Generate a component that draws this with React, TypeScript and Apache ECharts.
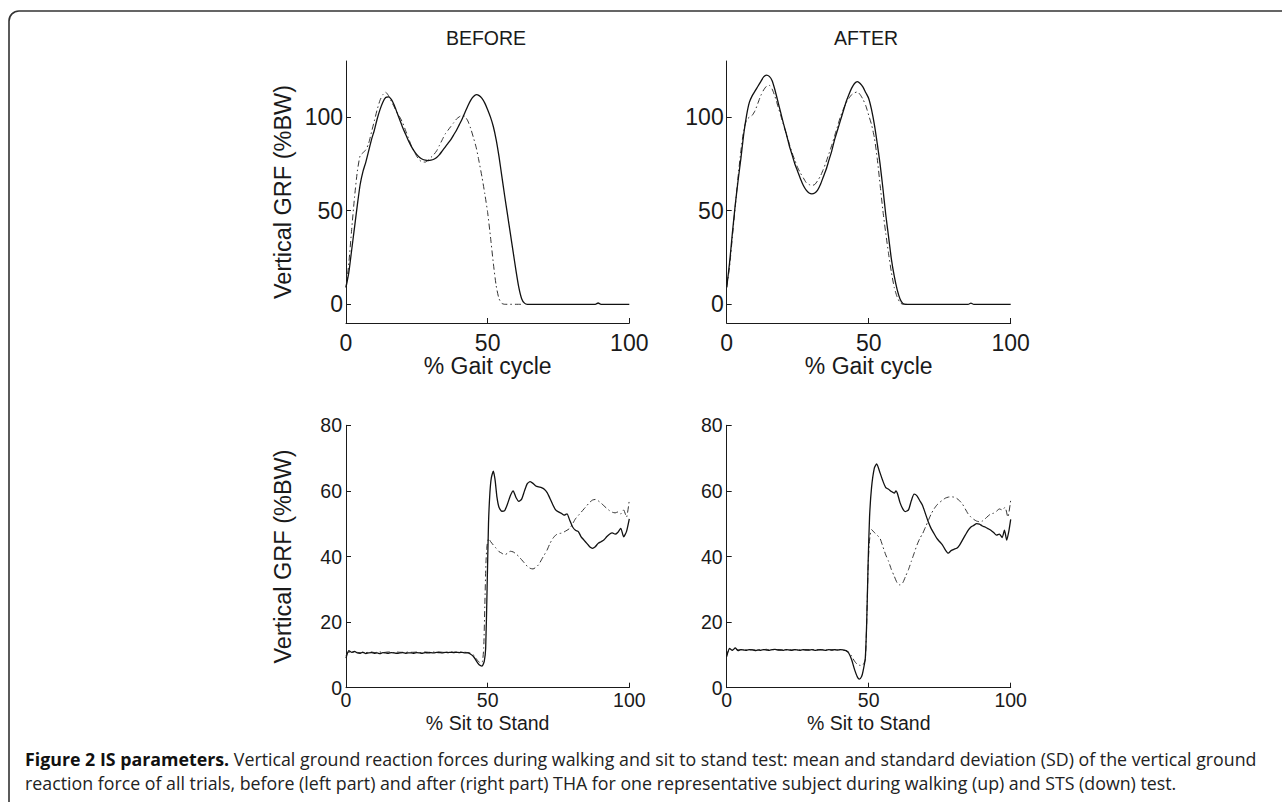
import React, { useEffect, useRef } from "react";
import * as echarts from "echarts";

// ---------- DATA ----------
const GAIT_X_TICKS = [0, 50, 100];
const GAIT_Y_TICKS = [0, 50, 100];
const STS_X_TICKS = [0, 50, 100];
const STS_Y_TICKS = [0, 20, 40, 60, 80];

// Walking, BEFORE — mean (solid)
const gaitBeforeMean: [number, number][] = [
  [0, 9], [1, 17], [2, 29], [3, 41], [4, 53], [5, 64], [6, 71], [7, 76], [8, 82], [9, 88],
  [10, 93], [11, 99], [12, 104], [13, 108], [14, 110.5], [15, 110.8], [16, 109.5], [17, 106.5],
  [18, 102.5], [19, 98.5], [20, 94.5], [21, 91], [22, 87.5], [23, 84.5], [24, 82], [25, 80],
  [26, 78.5], [27, 77.5], [28, 77], [29, 76.8], [30, 77], [31, 77.5], [32, 78.5], [33, 80],
  [34, 82], [35, 84], [36, 86], [37, 88], [38, 90.5], [39, 93], [40, 96], [41, 99], [42, 102.5],
  [43, 106], [44, 109], [45, 111], [46, 112], [47, 111.5], [48, 110], [49, 107.5], [50, 104],
  [51, 100], [52, 95], [53, 88], [54, 79], [55, 68.5], [56, 58], [57, 48], [58, 38], [59, 28],
  [60, 18], [61, 9], [62, 3], [63, 0.6], [64, 0], [70, 0], [80, 0], [88, 0], [89, 0.7], [90, 0], [100, 0],
];
// Walking, BEFORE — SD band (dash-dot)
const gaitBeforeSd: [number, number][] = [
  [0, 9], [1, 22], [2, 40], [3, 57], [4, 71], [5, 79.5], [6, 81], [7, 82.5], [8, 86], [9, 92],
  [10, 98], [11, 104], [12, 109], [13, 112], [14, 113.3], [15, 111.5], [16, 108.5], [17, 105.5],
  [18, 102.5], [19, 100], [20, 97], [21, 93], [22, 89], [23, 85], [24, 82], [25, 79], [26, 77],
  [27, 76], [28, 76], [29, 77], [30, 78.5], [31, 80], [32, 82], [33, 85], [34, 88], [35, 91],
  [36, 93], [37, 95], [38, 97], [39, 99], [40, 100.2], [41, 101], [42, 100.3], [43, 98],
  [44, 94], [45, 89], [46, 83.5], [47, 76], [48, 68], [49, 59], [50, 49], [51, 36], [52, 22],
  [53, 10], [54, 3], [55, 0.5], [56, 0], [62, 0],
];
// Walking, AFTER — mean (solid)
const gaitAfterMean: [number, number][] = [
  [0, 9], [1, 22], [2, 38], [3, 53], [4, 66], [5, 78], [6, 91], [7, 101], [8, 108], [9, 111.5],
  [10, 114], [11, 116.5], [12, 119], [13, 121.5], [14, 122.5], [15, 121.8], [16, 119.5],
  [17, 114.5], [18, 108.5], [19, 102.5], [20, 96.5], [21, 91], [22, 85], [23, 80], [24, 75],
  [25, 71], [26, 67], [27, 63.5], [28, 61], [29, 59.5], [30, 59], [31, 59.5], [32, 61], [33, 64],
  [34, 68], [35, 72], [36, 77], [37, 82], [38, 88], [39, 93], [40, 98], [41, 103], [42, 108],
  [43, 112], [44, 115.5], [45, 118], [46, 119], [47, 118], [48, 116], [49, 113], [50, 110],
  [51, 104], [52, 96], [53, 86], [54, 75], [55, 62], [56, 48], [57, 36], [58, 24], [59, 15],
  [60, 8], [61, 3], [62, 0.5], [63, 0], [70, 0], [85, 0], [86, 0.6], [87, 0], [100, 0],
];
// Walking, AFTER — SD band (dash-dot)
const gaitAfterSd: [number, number][] = [
  [0, 9], [1, 20], [2, 36], [3, 52], [4, 68], [5, 82], [6, 93], [7, 98.5], [8, 100], [9, 101],
  [10, 103.5], [11, 107.5], [12, 111.5], [13, 114.5], [14, 116.5], [15, 117], [16, 115],
  [17, 111], [18, 106], [19, 101], [20, 96], [21, 91], [22, 86], [23, 81], [24, 77], [25, 73],
  [26, 70], [27, 67.5], [28, 65], [29, 64], [30, 63.5], [31, 64], [32, 66], [33, 68.5], [34, 72],
  [35, 76], [36, 80.5], [37, 85], [38, 90], [39, 95], [40, 100], [41, 104], [42, 107.5],
  [43, 110], [44, 112], [45, 113], [46, 113.5], [47, 112], [48, 109.5], [49, 106], [50, 101],
  [51, 96], [52, 89], [53, 78], [54, 64], [55, 50], [56, 38], [57, 27], [58, 17], [59, 9],
  [60, 4], [61, 1], [62, 0], [64, 0],
];
// Sit to stand, BEFORE — mean (solid)
const stsBeforeMean: [number, number][] = [
  [0, 9], [1, 11.3], [2, 10.8], [3, 11.1], [4, 10.6], [5, 10.5], [6, 10.8], [7, 10.4], [8, 10.6],
  [9, 10.7], [10, 10.5], [11, 10.6], [12, 10.4], [13, 10.7], [14, 10.6], [15, 10.5], [16, 10.7],
  [17, 10.6], [18, 10.5], [19, 10.6], [20, 10.7], [21, 10.5], [22, 10.6], [23, 10.6], [24, 10.5],
  [25, 10.7], [26, 10.6], [27, 10.5], [28, 10.7], [29, 10.6], [30, 10.7], [31, 10.6], [32, 10.8],
  [33, 10.7], [34, 10.6], [35, 10.8], [36, 10.7], [37, 10.8], [38, 10.7], [39, 10.8], [40, 10.7],
  [41, 10.8], [42, 10.6], [43, 10.6], [44, 10.2], [45, 9.5], [46, 8.2], [47, 7], [48, 6.6],
  [48.8, 8], [49.3, 12], [49.8, 30], [50.3, 50], [50.8, 59.5], [51.3, 64], [52, 66], [52.6, 63.5],
  [53.3, 58], [54, 55], [55, 53.8], [56, 54], [57, 56], [58, 58.5], [59, 60], [60, 58],
  [61, 56.8], [62, 57.5], [63, 60], [64, 62.2], [65, 62.8], [66, 62.3], [67, 61.5], [68, 61.2],
  [69, 61], [70, 60.5], [71, 59.5], [72, 57.7], [73, 55.8], [74, 54.2], [75, 53.6], [76, 53.2],
  [77, 52.6], [78, 53], [79, 51], [80, 49], [81, 48], [82, 47.6], [83, 46], [84, 45], [85, 44],
  [86, 43], [87, 42.5], [88, 43], [89, 44], [90, 44.5], [91, 45], [92, 46], [93, 46.8],
  [94, 47.2], [95, 46.8], [96, 47.4], [97, 48.6], [98, 46], [99, 47.6], [100, 51.5],
];
// Sit to stand, BEFORE — SD band (dash-dot)
const stsBeforeSd: [number, number][] = [
  [0, 9.8], [1, 10.9], [2, 10.7], [3, 10.9], [4, 10.8], [5, 10.6], [6, 10.9], [7, 10.7],
  [8, 10.8], [9, 10.9], [10, 10.7], [11, 10.8], [12, 10.9], [13, 10.7], [14, 10.8], [15, 10.9],
  [16, 10.8], [17, 10.7], [18, 10.9], [19, 10.8], [20, 10.8], [21, 10.7], [22, 10.9], [23, 10.8],
  [24, 10.8], [25, 10.9], [26, 10.7], [27, 10.8], [28, 10.9], [29, 10.8], [30, 10.8], [31, 10.9],
  [32, 10.8], [33, 10.9], [34, 10.8], [35, 10.9], [36, 10.8], [37, 10.9], [38, 10.8], [39, 10.9],
  [40, 10.8], [41, 10.9], [42, 10.8], [43, 10.7], [44, 10.5], [45, 10], [46, 8.8], [47, 7.8],
  [48, 7.6], [48.6, 12], [49, 25], [49.4, 38], [49.8, 43.5], [50.4, 45.5], [51, 44.6],
  [52, 43.5], [53, 42.5], [54, 41.5], [55, 41], [56, 40.5], [57, 41], [58, 41.6], [59, 41.4],
  [60, 40.8], [61, 40], [62, 39], [63, 38], [64, 37], [65, 36.4], [66, 36.2], [67, 36.7],
  [68, 37.5], [69, 39], [70, 40.5], [71, 42], [72, 44], [73, 45.5], [74, 46.5], [75, 47],
  [76, 47.1], [77, 47.5], [78, 48], [79, 48.6], [80, 50], [81, 51.5], [82, 52.5], [83, 53.5],
  [84, 54.5], [85, 55.5], [86, 56.5], [87, 57.2], [88, 57.4], [89, 57], [90, 56.3], [91, 55.5],
  [92, 54.7], [93, 54], [94, 53.5], [95, 53.3], [96, 53.6], [97, 53], [98, 54.2], [99, 52],
  [100, 57.2],
];
// Sit to stand, AFTER — mean (solid)
const stsAfterMean: [number, number][] = [
  [0, 9.5], [1, 12], [2, 11.4], [3, 12.1], [4, 11.3], [5, 11.6], [6, 11.5], [7, 11.4], [8, 11.6],
  [9, 11.5], [10, 11.3], [11, 11.5], [12, 11.4], [13, 11.6], [14, 11.5], [15, 11.4], [16, 11.6],
  [17, 11.7], [18, 11.5], [19, 11.5], [20, 11.4], [21, 11.6], [22, 11.5], [23, 11.4], [24, 11.6],
  [25, 11.5], [26, 11.4], [27, 11.6], [28, 11.5], [29, 11.5], [30, 11.6], [31, 11.4], [32, 11.5],
  [33, 11.6], [34, 11.5], [35, 11.4], [36, 11.6], [37, 11.5], [38, 11.6], [39, 11.5], [40, 11.6],
  [41, 11.5], [42, 11.3], [43, 10.5], [44, 8.5], [45, 5.6], [46, 3.3], [46.7, 2.6], [47.5, 3.4],
  [48, 5], [48.8, 9], [49.3, 20], [49.8, 38], [50.3, 52], [51, 61], [52, 67], [52.8, 68.2],
  [54, 65.5], [55, 63], [56, 61], [57, 60.5], [58, 59.8], [59, 59.3], [59.6, 60], [60.2, 59],
  [61, 56.5], [62, 54.5], [62.8, 53.7], [64, 54.2], [65, 57], [66, 59], [67, 58.5], [68, 57],
  [69, 55.5], [70, 53], [71, 50.5], [72, 48.5], [73, 47], [74, 45.5], [75, 44.5], [76, 43.5],
  [77, 42], [78, 41], [79, 41.8], [80, 42.2], [81, 42.5], [82, 43.5], [83, 45], [84, 46.5],
  [85, 48], [86, 49], [87, 49.5], [88, 50], [89, 49.9], [90, 49.3], [91, 49], [92, 48.5],
  [93, 48], [94, 47.3], [95, 46.5], [96, 46.8], [97, 45.8], [97.8, 48], [98.6, 45], [99.4, 48],
  [100, 51.3],
];
// Sit to stand, AFTER — SD band (dash-dot)
const stsAfterSd: [number, number][] = [
  [0, 10], [1, 11.7], [2, 11.5], [3, 11.8], [4, 11.5], [5, 11.6], [6, 11.5], [7, 11.6], [8, 11.5],
  [9, 11.6], [10, 11.5], [11, 11.6], [12, 11.5], [13, 11.6], [14, 11.7], [15, 11.5], [16, 11.6],
  [17, 11.5], [18, 11.6], [19, 11.5], [20, 11.6], [21, 11.5], [22, 11.6], [23, 11.5], [24, 11.6],
  [25, 11.5], [26, 11.6], [27, 11.5], [28, 11.6], [29, 11.5], [30, 11.6], [31, 11.5], [32, 11.6],
  [33, 11.5], [34, 11.6], [35, 11.5], [36, 11.6], [37, 11.5], [38, 11.6], [39, 11.5], [40, 11.6],
  [41, 11.5], [42, 11.3], [43, 10.8], [44, 9.6], [45, 8.1], [46, 7.1], [47, 6.8], [48, 7],
  [48.8, 8.5], [49.3, 20], [49.8, 37], [50.3, 45], [51, 48.2], [52, 47.3], [53, 46.5],
  [54, 45.5], [55, 43], [56, 40.5], [57, 38.5], [58, 36], [59, 34], [60, 32], [61, 31.3],
  [62, 32], [63, 34], [64, 36], [65, 38.5], [66, 41], [67, 43.5], [68, 45.5], [69, 47], [70, 49],
  [71, 51], [72, 53], [73, 54.5], [74, 55.7], [75, 56.5], [76, 57.2], [77, 57.8], [78, 58.1],
  [79, 58.2], [80, 58.1], [81, 57.7], [82, 57], [83, 56], [84, 54.5], [85, 53], [86, 52],
  [87, 51.3], [88, 50.8], [89, 50.6], [90, 50.8], [91, 51.5], [92, 52.3], [93, 53], [94, 53.2],
  [95, 53.8], [96, 54.5], [97, 54.2], [98, 55], [99, 52], [100, 57.2],
];

const PANEL_TITLES = ["BEFORE", "AFTER"];
const X_NAMES = ["% Gait cycle", "% Sit to Stand"];
const Y_NAME = "Vertical GRF (%BW)";
const CAPTION_BOLD = "Figure 2 IS parameters.";
const CAPTION_LINE1 =
  " Vertical ground reaction forces during walking and sit to stand test: mean and standard deviation (SD) of the vertical ground";
const CAPTION_LINE2 =
  "reaction force of all trials, before (left part) and after (right part) THA for one representative subject during walking (up) and STS (down) test.";

// ---------- STYLE ----------
const FONT = "'Liberation Sans', Arial, Helvetica, sans-serif";
const CAP_FONT = "'Open Sans', 'Noto Sans', sans-serif";
const CAP_SIZE = 17.8;
const INK = "#1a1a1a";

const grids = [
  { left: 346, top: 61, width: 283.3, height: 262 },
  { left: 726.7, top: 61, width: 284, height: 262 },
  { left: 346, top: 425.3, width: 283.3, height: 262.4 },
  { left: 726.7, top: 425.3, width: 284, height: 262.4 },
];

export default function App() {
  const ref = useRef<HTMLDivElement>(null);

  useEffect(() => {
    document.body.style.margin = "0";
    if (!ref.current) return;
    const chart = echarts.init(ref.current, undefined, { renderer: "svg" });

    const axisLineStyle = { color: INK, width: 1 };

    const xAxes = grids.map((_, i) => {
      const top = i < 2;
      const fs = top ? 23 : 19.5;
      return {
        type: "value",
        gridIndex: i,
        min: 0,
        max: 100,
        interval: 50,
        name: top ? X_NAMES[0] : X_NAMES[1],
        nameLocation: "middle",
        nameGap: top ? 27 : 25,
        nameTextStyle: { fontFamily: FONT, fontSize: fs, color: INK },
        axisLine: { show: true, onZero: false, lineStyle: axisLineStyle },
        axisTick: {
          show: true,
          inside: true,
          length: 5,
          lineStyle: axisLineStyle,
          customValues: top ? GAIT_X_TICKS : STS_X_TICKS,
        },
        axisLabel: {
          fontFamily: FONT,
          fontSize: fs,
          color: INK,
          margin: top ? 8 : 2,
          customValues: top ? GAIT_X_TICKS : STS_X_TICKS,
        },
        splitLine: { show: false },
      };
    });

    const yAxes = grids.map((_, i) => {
      const top = i < 2;
      const fs = top ? 23 : 19.5;
      const left = i % 2 === 0;
      return {
        type: "value",
        gridIndex: i,
        min: top ? -10 : 0,
        max: top ? 130 : 80,
        name: left ? Y_NAME : "",
        nameLocation: "middle",
        nameGap: top ? 51 : 51,
        nameTextStyle: { fontFamily: FONT, fontSize: 23.5, color: INK },
        axisLine: { show: true, onZero: false, lineStyle: axisLineStyle },
        axisTick: {
          show: true,
          inside: true,
          length: 5,
          lineStyle: axisLineStyle,
          customValues: top ? GAIT_Y_TICKS : STS_Y_TICKS,
        },
        axisLabel: {
          fontFamily: FONT,
          fontSize: fs,
          color: INK,
          margin: top ? 3 : 4,
          customValues: top ? GAIT_Y_TICKS : STS_Y_TICKS,
        },
        splitLine: { show: false },
      };
    });

    const solid = (data: [number, number][], idx: number) => ({
      type: "line",
      xAxisIndex: idx,
      yAxisIndex: idx,
      data,
      showSymbol: false,
      smooth: 0.2,
      lineStyle: { color: "#111", width: 1.3, type: "solid" },
      z: 3,
    });
    const dashDot = (data: [number, number][], idx: number) => ({
      type: "line",
      xAxisIndex: idx,
      yAxisIndex: idx,
      data,
      showSymbol: false,
      smooth: 0.2,
      lineStyle: { color: "#333", width: 1, type: [6, 3, 1.5, 3] },
      z: 2,
    });

    chart.setOption({
      animation: false,
      backgroundColor: "#ffffff",
      grid: grids.map((g) => ({ ...g, containLabel: false })),
      xAxis: xAxes,
      yAxis: yAxes,
      series: [
        dashDot(gaitBeforeSd, 0),
        solid(gaitBeforeMean, 0),
        dashDot(gaitAfterSd, 1),
        solid(gaitAfterMean, 1),
        dashDot(stsBeforeSd, 2),
        solid(stsBeforeMean, 2),
        dashDot(stsAfterSd, 3),
        solid(stsAfterMean, 3),
      ],
      graphic: [
        {
          type: "rect",
          shape: { x: 9, y: 11, width: 1300, height: 820, r: [10, 0, 0, 0] },
          style: { fill: "none", stroke: "#333", lineWidth: 1.6 },
          silent: true,
        },
        {
          type: "text",
          x: 486,
          y: 38,
          style: {
            text: PANEL_TITLES[0],
            fontFamily: FONT,
            fontSize: 19.5,
            fill: INK,
            align: "center",
            verticalAlign: "middle",
          },
        },
        {
          type: "text",
          x: 866,
          y: 38,
          style: {
            text: PANEL_TITLES[1],
            fontFamily: FONT,
            fontSize: 19.5,
            fill: INK,
            align: "center",
            verticalAlign: "middle",
          },
        },
        {
          type: "text",
          x: 25,
          y: 759,
          style: {
            text: "{b|" + CAPTION_BOLD + "}" + CAPTION_LINE1,
            fontFamily: CAP_FONT,
            fontSize: CAP_SIZE,
            fill: "#222",
            verticalAlign: "middle",
            rich: {
              b: { fontFamily: CAP_FONT, fontSize: CAP_SIZE, fontWeight: "bold", fill: "#111" },
            },
          },
        },
        {
          type: "text",
          x: 25,
          y: 783,
          style: {
            text: CAPTION_LINE2,
            fontFamily: CAP_FONT,
            fontSize: CAP_SIZE,
            fill: "#222",
            verticalAlign: "middle",
          },
        },
      ],
    });

    return () => chart.dispose();
  }, []);

  return <div ref={ref} style={{ width: 1282, height: 802 }} />;
}
